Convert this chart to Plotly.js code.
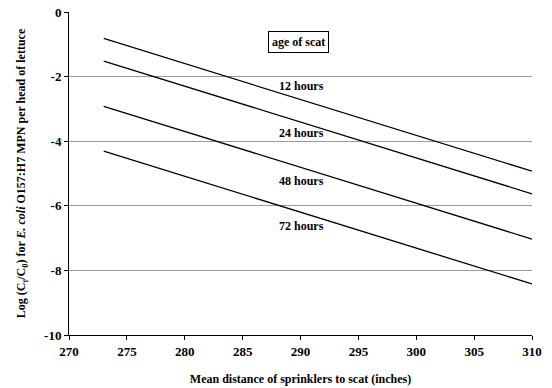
<!DOCTYPE html>
<html><head><meta charset="utf-8">
<script src="https://cdn.plot.ly/plotly-3.0.1.min.js"></script>
<style>body{margin:0;background:#fff}#c{width:552px;height:388px}</style>
</head><body><div id="c"></div>
<script>
const distance = [273, 310];
const series = ["12 hours", "24 hours", "48 hours", "72 hours"];
const h12 = [-0.82, -4.93];
const h24 = [-1.52, -5.63];
const h48 = [-2.92, -7.03];
const h72 = [-4.31, -8.42];
const labelX = [290.1, 290.1, 290.1, 290.1];
const labelY = [-2.29, -3.75, -5.23, -6.63];
const xTicks = [270, 275, 280, 285, 290, 295, 300, 305, 310];
const yTicks = [0, -2, -4, -6, -8, -10];

const values = [h12, h24, h48, h72];
const traces = values.map((v, i) => ({
  x: distance, y: v, mode: 'lines', type: 'scatter', name: series[i],
  line: {color: '#000', width: 1.3}, hoverinfo: 'skip'
}));
const FAM = 'Liberation Serif';
const f = (s) => ({family: FAM, size: s, color: '#000', weight: 700});
const annotations = series.map((s, i) => ({
  x: labelX[i], y: labelY[i], text: '<b>' + s + '</b>', showarrow: false, font: f(12)
}));
annotations.push({
  x: 289.8, y: -0.93, text: '<b>age of scat</b>', showarrow: false, font: f(12),
  bordercolor: '#000', borderwidth: 1, borderpad: 3, bgcolor: '#fff'
});
const layout = {
  width: 552, height: 388,
  margin: {l: 69, r: 20, t: 12, b: 53},
  paper_bgcolor: '#fff', plot_bgcolor: '#fff',
  showlegend: false,
  font: f(12),
  xaxis: {
    range: [270, 310], tickvals: xTicks, ticktext: xTicks.map(t => '<b>' + t + '</b>'),
    showgrid: false, zeroline: false, showline: true, linecolor: '#000', linewidth: 1,
    ticks: 'outside', ticklen: 4, tickcolor: '#000', tickfont: f(13),
    title: {text: '<b>Mean distance of sprinklers to scat (inches)</b>', font: f(12), standoff: 17}
  },
  yaxis: {
    range: [-10, 0], tickvals: yTicks, ticktext: yTicks.map(t => '<b>' + t + '</b>'),
    showgrid: true, gridcolor: '#9a9a9a', gridwidth: 1, zeroline: false,
    showline: true, linecolor: '#000', linewidth: 1,
    ticks: 'outside', ticklen: 4, tickcolor: '#000', tickfont: f(13),
    title: {text: '<b>Log (C<sub>t</sub>/C<sub>0</sub>) for <i>E. coli</i> O157:H7 MPN per head of lettuce</b>', font: f(12), standoff: 15}
  },
  annotations: annotations
};
Plotly.newPlot('c', traces, layout, {displayModeBar: false, staticPlot: true});
</script></body></html>
